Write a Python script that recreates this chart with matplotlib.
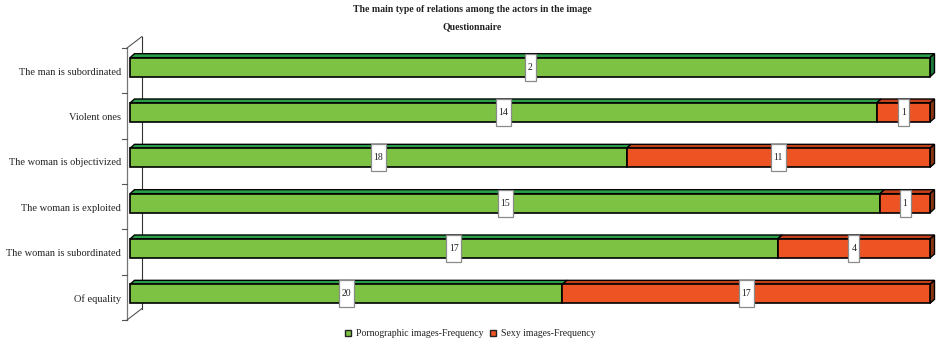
import matplotlib
matplotlib.use("Agg")
import matplotlib.pyplot as plt
import matplotlib.transforms as mtransforms
from matplotlib.patches import Polygon, Rectangle, Patch
import numpy as np

# Data
categories = ["The man is subordinated", "Violent ones", "The woman is objectivized",
              "The woman is exploited", "The woman is subordinated", "Of equality"]
porn_freq = [2, 14, 18, 15, 17, 20]
sexy_freq = [0, 1, 11, 1, 4, 17]
series_names = ["Pornographic images-Frequency", "Sexy images-Frequency"]

# Face colours per series: front, top, side
front_cols = ["#7DC242", "#EE5423"]
top_cols = ["#2A9E48", "#C4401C"]
side_cols = ["#1C7A3A", "#8A3512"]

FONT = "Liberation Serif"
plt.rcParams["font.family"] = [FONT, "DejaVu Serif"]

W, H = 938, 343
fig = plt.figure(figsize=(W / 100, H / 100), dpi=100)

# Axes geometry (pixels)
ax_left, ax_right, ax_top, ax_bottom = 127, 938, 48, 320
ax = fig.add_axes([ax_left / W, 1 - ax_bottom / H,
                   (ax_right - ax_left) / W, (ax_bottom - ax_top) / H])
ax.axis("off")

n = len(categories)
x_scale = 800.0             # pixels per 100 % of a bar
x_gap = 3.0                 # gap between axis line and bar start (px)
ax.set_xlim(-x_gap / x_scale, (ax_right - ax_left - x_gap) / x_scale)
ax.set_ylim(n - 0.5, -0.5)
y_scale = (ax_bottom - ax_top) / n

def px_x(p):
    return p / x_scale

def px_y(p):
    return p / y_scale

xl = -x_gap / x_scale

# Wall: front axis line, back line and connecting diagonals
wall_dx, wall_dy = px_x(15), px_y(11.5)
ax.plot([xl, xl], [-0.5, n - 0.5], color="#777777", lw=0.9, clip_on=False, zorder=1)
ax.plot([xl + wall_dx, xl + wall_dx], [-0.5 - wall_dy, n - 0.5 - wall_dy],
        color="#333333", lw=0.8, clip_on=False, zorder=1)
for yb in (-0.5, n - 0.5):
    ax.plot([xl, xl + wall_dx], [yb, yb - wall_dy], color="#555555", lw=0.8,
            clip_on=False, zorder=1)
for b in np.arange(-0.5, n, 1.0):
    ax.plot([xl - px_x(5), xl], [b, b], color="#555555", lw=0.8, clip_on=False, zorder=1)

# Category labels
for i, cat in enumerate(categories):
    ax.text(xl - px_x(6), i + 0.03, cat, ha="right", va="center",
            fontsize=7.5, color="#222222")

# Bars with 3D faces
bar_h = px_y(19)
bar_shift = px_y(3.5)
ddx, ddy = px_x(4.5), px_y(4)

porn = np.array(porn_freq, dtype=float)
sexy = np.array(sexy_freq, dtype=float)
totals = porn + sexy
shares = [porn / totals, sexy / totals]
values = [porn_freq, sexy_freq]

for i in range(n):
    yc = i - bar_shift
    ytop = yc - bar_h / 2
    ybot = yc + bar_h / 2
    left = 0.0
    last_k = 0
    segs = []
    for k in range(2):
        w = shares[k][i]
        if w > 0:
            segs.append((k, left, w))
            last_k = k
        left += w
    # top faces
    for k, l, w in segs:
        poly = Polygon([(l, ytop), (l + w, ytop), (l + w + ddx, ytop - ddy), (l + ddx, ytop - ddy)],
                       closed=True, facecolor=top_cols[k], edgecolor="black", lw=1.0,
                       clip_on=False, zorder=3)
        ax.add_patch(poly)
    # side face at the right end
    side = Polygon([(1, ytop), (1 + ddx, ytop - ddy), (1 + ddx, ybot - ddy), (1, ybot)],
                   closed=True, facecolor=side_cols[last_k], edgecolor="black", lw=1.0,
                   clip_on=False, zorder=3)
    ax.add_patch(side)
    # front faces
    for k, l, w in segs:
        ax.barh(yc, w, left=l, height=bar_h, color=front_cols[k], edgecolor="black",
                lw=1.2, zorder=4, clip_on=False)

# Value labels in white boxes at segment centres
for i in range(n):
    yc = i - bar_shift
    left = 0.0
    for k in range(2):
        w = shares[k][i]
        v = values[k][i]
        if v > 0:
            xc = left + w / 2
            txt = str(v)
            bw = 11 if len(txt) == 1 else 15
            bh = 27
            trans = mtransforms.Affine2D() + mtransforms.ScaledTranslation(xc, yc, ax.transData)
            rect = Rectangle((-bw / 2, -bh / 2), bw, bh, transform=trans,
                             facecolor="white", edgecolor="#8a8a8a", lw=0.9, zorder=6)
            ax.add_patch(rect)
            ax.text(xc, yc, txt, ha="center", va="center", fontsize=7,
                    color="#222222", zorder=7)
        left += w

# Titles
fig.text(472 / W, 1 - 10 / H, "The main type of relations among the actors in the image",
         ha="center", va="center", fontsize=7, fontweight="bold", color="#222222")
fig.text(472 / W, 1 - 27 / H, "Questionnaire",
         ha="center", va="center", fontsize=7, fontweight="bold", color="#222222")

# Legend
handles = [Patch(facecolor=front_cols[k], edgecolor="#222222", lw=1.0, label=series_names[k])
           for k in range(2)]
fig.legend(handles=handles, ncol=2, loc="center", bbox_to_anchor=(470 / W, 1 - 334 / H),
           frameon=False, fontsize=7, handlelength=0.6, handleheight=0.6,
           handletextpad=0.5, columnspacing=0.7, labelcolor="#222222")

fig.savefig("out.png", dpi=100)
